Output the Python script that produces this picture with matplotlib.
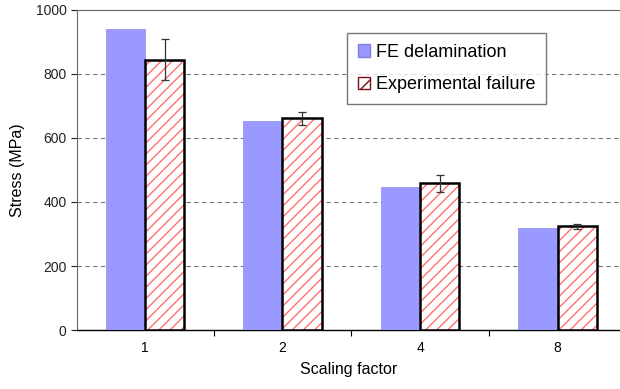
import numpy as np
import matplotlib.pyplot as plt
from matplotlib.patches import Patch

# dati
factors = ['1', '2', '4', '8']
fe_delam = [940, 653, 447, 320]
exp_fail = [845, 662, 458, 324]
exp_err = [63, 20, 26, 8]

blue = '#9999ff'
red = '#ff7070'

plt.rcParams['font.family'] = ['Liberation Sans', 'DejaVu Sans']
plt.rcParams['hatch.linewidth'] = 1.0

fig = plt.figure(figsize=(6.2, 3.89), dpi=100)
ax = fig.add_axes([77 / 620, 1 - 330 / 389, 1 - 77 / 620, 320 / 389])

x = np.arange(len(factors))
w = 0.287

ax.bar(x - w / 2, fe_delam, w, color=blue, edgecolor='#8a8af0', linewidth=0.5, zorder=3)
# barre tratteggiate: prima il tratteggio rosso, poi il bordo nero
ax.bar(x + w / 2, exp_fail, w, color='white', edgecolor=red, hatch='///', linewidth=0, zorder=3)
ax.bar(x + w / 2, exp_fail, w, fill=False, edgecolor='black', linewidth=1.8, zorder=4)
ax.errorbar(x + w / 2, exp_fail, yerr=exp_err, fmt='none', ecolor='#333333',
            elinewidth=0.9, capsize=3, capthick=0.9, zorder=5)

ax.set_ylim(0, 1000)
ax.set_xlim(-0.4945, 3.4545)
ax.set_yticks([0, 200, 400, 600, 800, 1000])
ax.set_xticks(x)
ax.set_xticklabels(factors)
ax.set_xticks(x[:-1] + 0.5, minor=True)
ax.tick_params(axis='x', which='major', length=0, labelsize=10, pad=8)
ax.tick_params(axis='x', which='minor', length=4, width=0.8, direction='out')
ax.tick_params(axis='y', length=4, width=0.8, labelsize=10, colors='#222222')

for v in [200, 400, 600, 800]:
    ax.axhline(v, color='#777777', lw=0.8, ls=(0, (4, 3)), zorder=1)

ax.spines['right'].set_visible(False)
ax.spines['top'].set_color('#666666')
ax.spines['left'].set_color('#666666')
ax.spines['bottom'].set_color('black')
ax.spines['bottom'].set_linewidth(1.0)

ax.set_xlabel('Scaling factor', fontsize=11.5, labelpad=5)
ax.set_ylabel('Stress (MPa)', fontsize=11.5, labelpad=8)

handles = [Patch(facecolor=blue, edgecolor='#8080e0', label='FE delamination'),
           Patch(facecolor='white', edgecolor='#7a1010', hatch='//', label='Experimental failure')]
fig.legend(handles=handles, loc='upper left', bbox_to_anchor=(347 / 620, 1 - 33 / 389),
           fontsize=13, frameon=True, fancybox=False, edgecolor='#555555',
           borderpad=0.6, labelspacing=0.85, handlelength=0.7, handleheight=0.7,
           handletextpad=0.3, borderaxespad=0)

fig.savefig('out.png', dpi=100)
